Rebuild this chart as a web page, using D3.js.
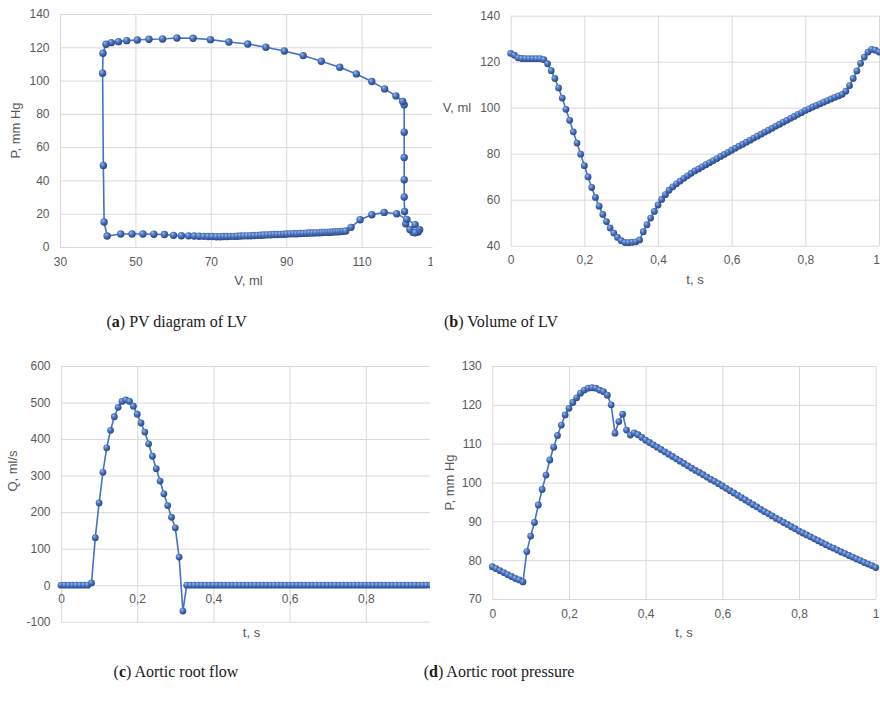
<!DOCTYPE html>
<html><head><meta charset="utf-8">
<script src="https://cdn.jsdelivr.net/npm/d3@7"></script>
<style>
body{margin:0;background:#fff;}
svg{display:block;}
</style>
</head><body>
<svg id="chart" width="880" height="702"></svg>
<script>
// ---- data (sampled every 0.01 s over one cardiac cycle) ----
const time = [0,0.01,0.02,0.03,0.04,0.05,0.06,0.07,0.08,0.09,
  0.10,0.11,0.12,0.13,0.14,0.15,0.16,0.17,0.18,0.19,
  0.20,0.21,0.22,0.23,0.24,0.25,0.26,0.27,0.28,0.29,
  0.30,0.31,0.32,0.33,0.34,0.35,0.36,0.37,0.38,0.39,
  0.40,0.41,0.42,0.43,0.44,0.45,0.46,0.47,0.48,0.49,
  0.50,0.51,0.52,0.53,0.54,0.55,0.56,0.57,0.58,0.59,
  0.60,0.61,0.62,0.63,0.64,0.65,0.66,0.67,0.68,0.69,
  0.70,0.71,0.72,0.73,0.74,0.75,0.76,0.77,0.78,0.79,
  0.80,0.81,0.82,0.83,0.84,0.85,0.86,0.87,0.88,0.89,
  0.90,0.91,0.92,0.93,0.94,0.95,0.96,0.97,0.98,0.99,1.00];

// LV volume, ml
const lvVolume = [123.6,122.8,121.7,121.4,121.3,121.3,121.3,121.3,121.3,120.9,
  119.1,116.1,112.7,108.6,104.2,99.3,94.5,89.5,84.6,79.8,
  74.8,69.9,65.3,61.0,57.2,53.6,50.5,47.7,45.5,43.6,
  42.2,41.4,41.3,41.5,41.7,42.5,46.1,49.1,52.0,54.9,
  57.7,60.1,62.2,64.1,65.6,66.9,68.1,69.3,70.4,71.5,
  72.5,73.4,74.3,75.2,76.1,77.0,77.9,78.8,79.7,80.6,
  81.5,82.4,83.3,84.1,85.0,85.9,86.8,87.6,88.5,89.4,
  90.2,91.1,92.0,92.8,93.7,94.5,95.4,96.2,97.1,97.9,
  98.8,99.5,100.3,101.0,101.7,102.4,103.1,103.8,104.5,105.1,
  105.8,107.2,109.6,112.7,116.0,119.3,122.0,124.2,125.4,125.0,124.2];

// LV pressure, mm Hg
const lvPressure = [8.8,10.5,14.0,21.4,30.0,40.4,53.8,69.0,85.4,87.4,
  90.8,95.0,99.4,104.0,108.0,111.6,115.0,117.8,120.0,122.0,
  123.2,124.6,125.4,125.6,125.0,124.8,124.4,124.0,123.4,122.8,
  121.8,116.4,104.4,49.0,15.0,6.6,7.8,7.8,7.8,7.7,
  7.5,7.0,6.8,6.7,6.6,6.5,6.4,6.3,6.3,6.2,
  6.2,6.3,6.3,6.4,6.4,6.5,6.6,6.7,6.7,6.8,
  6.9,7.0,7.1,7.2,7.3,7.4,7.5,7.5,7.6,7.7,
  7.8,7.9,8.0,8.0,8.1,8.2,8.3,8.4,8.4,8.5,
  8.6,8.7,8.8,8.8,8.9,9.0,9.1,9.2,9.3,9.4,
  9.6,11.8,16.4,19.4,20.8,20.0,16.6,13.4,10.4,9.0,8.6];

// Aortic root flow, ml/s
const aorticFlow = [0,0,0,0,0,0,0,0,6,130,
  225,309,376,424,461,487,503,507,503,490,
  468,444,419,387,353,319,285,250,218,186,
  157,77,-71,0,0,0,0,0,0,0,
  0,0,0,0,0,0,0,0,0,0,
  0,0,0,0,0,0,0,0,0,0,
  0,0,0,0,0,0,0,0,0,0,
  0,0,0,0,0,0,0,0,0,0,
  0,0,0,0,0,0,0,0,0,0,
  0,0,0,0,0,0,0,0,0,0,0];

// Aortic root pressure, mm Hg
const aorticPressure = [78.3,77.8,77.3,76.8,76.3,75.8,75.3,74.9,74.4,82.2,
  86.2,89.7,94.2,98.2,101.9,105.8,109.1,112.1,114.8,117.4,
  119.1,120.6,121.8,123.0,123.8,124.3,124.4,124.3,123.8,123.4,
  122.5,120.0,112.7,115.7,117.6,113.5,112.2,112.8,112.3,111.6,
  110.9,110.3,109.7,109.1,108.5,107.9,107.3,106.7,106.1,105.5,
  104.9,104.3,103.7,103.1,102.6,102.0,101.4,100.8,100.3,99.7,
  99.1,98.5,97.9,97.3,96.7,96.1,95.5,94.9,94.3,93.7,
  93.1,92.5,92.0,91.4,90.8,90.3,89.7,89.2,88.6,88.1,
  87.5,87.0,86.5,86.0,85.5,85.0,84.5,84.0,83.5,83.1,
  82.6,82.1,81.7,81.2,80.8,80.3,79.9,79.4,79.0,78.6,78.1];

// tick values
const pvVolumeTicks = [30,50,70,90,110,130];
const pvPressureTicks = [0,20,40,60,80,100,120,140];
const timeTicks = [0,0.2,0.4,0.6,0.8,1];
const volumeTicks = [40,60,80,100,120,140];
const flowTicks = [-100,0,100,200,300,400,500,600];
const aoPressureTicks = [70,80,90,100,110,120,130];

// captions
const captions = [
  {tag:"a", text:" PV diagram of LV"},
  {tag:"b", text:" Volume of LV"},
  {tag:"c", text:" Aortic root flow"},
  {tag:"d", text:" Aortic root pressure"}
];

// ---- drawing ----
const svg = d3.select("#chart");
const locale = d3.formatLocale({decimal:",", thousands:"\u00a0", grouping:[3], currency:["",""], minus:"-"});
const fmt = locale.format(".1~f");
const LINE = "#4472C4", GRID = "#d9d9d9", TXT = "#595959";
const FONT = "'Liberation Sans', Arial, sans-serif";

const defs = svg.append("defs");
const grad = defs.append("radialGradient").attr("id","ball")
  .attr("cx","40%").attr("cy","38%").attr("r","62%").attr("fx","35%").attr("fy","30%");
grad.append("stop").attr("offset","0%").attr("stop-color","#9dbbea");
grad.append("stop").attr("offset","45%").attr("stop-color","#4d77c2");
grad.append("stop").attr("offset","100%").attr("stop-color","#284684");

function panel(o) {
  const g = svg.append("g");
  if (o.clipRight) {
    const id = "clip" + o.key;
    defs.append("clipPath").attr("id", id).append("rect")
      .attr("x", o.clipLeft).attr("y", o.clipTop).attr("width", o.clipRight - o.clipLeft).attr("height", 340);
    g.attr("clip-path", `url(#${id})`);
  }
  const x = d3.scaleLinear().domain(o.xDomain).range([o.left, o.right]);
  const y = d3.scaleLinear().domain(o.yDomain).range([o.bottom, o.top]);

  // vertical gridlines
  const vg = g.append("g").attr("transform", `translate(0,${o.bottom})`)
    .call(d3.axisBottom(x).tickValues(o.xTicks).tickSize(-(o.bottom - o.top)).tickFormat(""));
  vg.select(".domain").remove();
  vg.selectAll("line").attr("stroke", GRID).attr("stroke-width", 1);
  // horizontal gridlines
  const hg = g.append("g").attr("transform", `translate(${o.left},0)`)
    .call(d3.axisLeft(y).tickValues(o.yTicks).tickSize(-(o.right - o.left)).tickFormat(""));
  hg.select(".domain").remove();
  hg.selectAll("line").attr("stroke", GRID).attr("stroke-width", 1);

  // tick labels
  const xl = g.append("g").attr("transform", `translate(0,${o.xAxisAt !== undefined ? y(o.xAxisAt) : o.bottom})`)
    .call(d3.axisBottom(x).tickValues(o.xTicks).tickSize(0).tickPadding(o.xPad).tickFormat(fmt));
  xl.select(".domain").remove();
  xl.selectAll("text").attr("fill", TXT).style("font-family", FONT).style("font-size", "12px");
  if (o.lastTickEnd) {
    xl.selectAll("text").filter((d, i, n) => i === n.length - 1)
      .attr("text-anchor", "end").attr("x", 0.5);
  }
  const yl = g.append("g").attr("transform", `translate(${o.left},0)`)
    .call(d3.axisLeft(y).tickValues(o.yTicks).tickSize(0).tickPadding(10.5).tickFormat(fmt));
  yl.select(".domain").remove();
  yl.selectAll("text").attr("fill", TXT).style("font-family", FONT).style("font-size", "12px");

  // axis titles
  g.append("text").attr("x", o.xTitle[0]).attr("y", o.xTitle[1]).attr("text-anchor","middle")
    .attr("fill", TXT).style("font-family", FONT).style("font-size","13px").text(o.xLabel);
  if (o.yRotate) {
    g.append("text").attr("transform", `translate(${o.yTitle[0]},${o.yTitle[1]}) rotate(-90)`)
      .attr("text-anchor","middle").attr("dy","0.35em")
      .attr("fill", TXT).style("font-family", FONT).style("font-size","13px").text(o.yLabel);
  } else {
    g.append("text").attr("x", o.yTitle[0]).attr("y", o.yTitle[1]).attr("text-anchor","middle")
      .attr("dy","0.35em")
      .attr("fill", TXT).style("font-family", FONT).style("font-size","13px").text(o.yLabel);
  }

  // series
  const pts = o.xs.map((v, i) => [v, o.ys[i]]);
  const line = d3.line().x(d => x(d[0])).y(d => y(d[1]));
  g.append("path").datum(pts).attr("d", line).attr("fill","none")
    .attr("stroke", LINE).attr("stroke-width", 1.6).attr("stroke-linejoin","round");
  g.append("g").selectAll("circle").data(pts).join("circle")
    .attr("cx", d => x(d[0])).attr("cy", d => y(d[1])).attr("r", o.r)
    .attr("fill", "url(#ball)");
}

panel({key:"a", xDomain:[30,130], yDomain:[0,140], left:60, right:437, top:14, bottom:247,
  xTicks:pvVolumeTicks, yTicks:pvPressureTicks, xPad:10,
  xs:lvVolume, ys:lvPressure, r:3.7,
  xLabel:"V, ml", xTitle:[248.5,284.5], yLabel:"P, mm Hg", yTitle:[15,130.5], yRotate:true,
  clipLeft:0, clipTop:0, clipRight:432.5});

panel({key:"b", xDomain:[0,1], yDomain:[40,140], left:510.7, right:879, top:15.7, bottom:245.7,
  xTicks:timeTicks, yTicks:volumeTicks, xPad:9.5, lastTickEnd:true,
  xs:time, ys:lvVolume, r:3.4,
  xLabel:"t, s", xTitle:[695,283.5], yLabel:"V, ml", yTitle:[457,107.7], yRotate:false});

panel({key:"c", xDomain:[0,1], yDomain:[-100,600], left:61, right:442, top:366, bottom:621.7,
  xTicks:timeTicks, yTicks:flowTicks, xPad:9.5, xAxisAt:0,
  xs:time, ys:aorticFlow, r:3.4,
  xLabel:"t, s", xTitle:[251.5,637], yLabel:"Q, ml/s", yTitle:[12,471], yRotate:true,
  clipLeft:0, clipTop:345, clipRight:430});

panel({key:"d", xDomain:[0,1], yDomain:[70,130], left:492.3, right:875.7, top:366, bottom:599,
  xTicks:timeTicks, yTicks:aoPressureTicks, xPad:10,
  xs:time, ys:aorticPressure, r:3.4,
  xLabel:"t, s", xTitle:[684,637], yLabel:"P, mm Hg", yTitle:[449,482.5], yRotate:true});

// captions
const capPos = [[176.7,327],[501,327],[176,677],[499,677]];
captions.forEach((c, i) => {
  const t = svg.append("text").attr("x", capPos[i][0]).attr("y", capPos[i][1])
    .attr("text-anchor","middle").attr("fill","#1a1a1a")
    .style("font-family","'Liberation Serif','Times New Roman',serif").style("font-size","16px");
  t.append("tspan").text("(");
  t.append("tspan").attr("font-weight","bold").text(c.tag);
  t.append("tspan").text(")" + c.text);
});
</script>
</body></html>
